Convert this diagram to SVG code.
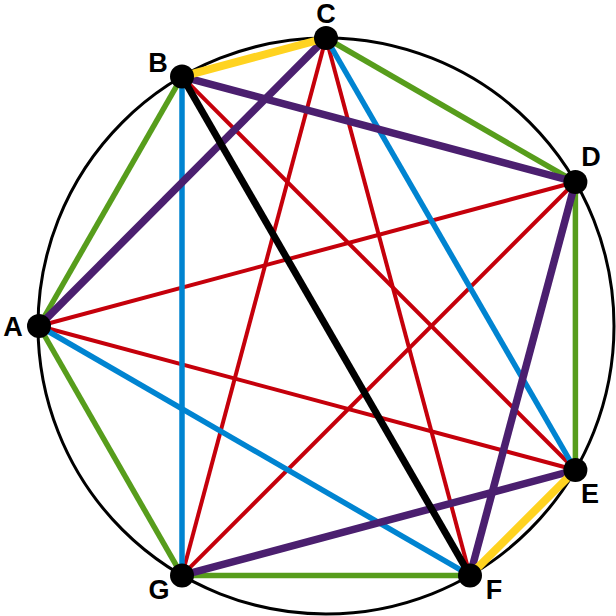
<svg xmlns="http://www.w3.org/2000/svg" width="616" height="616" viewBox="0 0 616 616">
<style>
.e{fill:none;stroke-linecap:butt}
.r{stroke:#C5000B;stroke-width:4}
.g{stroke:#579D1C;stroke-width:5.5}
.b{stroke:#0084D1;stroke-width:5.5}
.p{stroke:#4B1F6F;stroke-width:7.5}
.k{stroke:#000;stroke-width:7}
.y{stroke:#FFD320;stroke-width:8}
.n{fill:#000}
.t{font-family:"Liberation Sans",Arial,sans-serif;font-weight:bold;font-size:27px;fill:#000}
</style>
<rect width="616" height="616" fill="#fff"/>
<circle cx="326" cy="326" r="288" fill="none" stroke="#000" stroke-width="3"/>
<g id="connectors">
<line class="e r" x1="39" y1="326" x2="575.4" y2="182"/>
<line class="e r" x1="39" y1="326" x2="575.4" y2="470"/>
<line class="e r" x1="182" y1="76.6" x2="575.4" y2="470"/>
<line class="e r" x1="326" y1="38" x2="182" y2="575.4"/>
<line class="e r" x1="326" y1="38" x2="470" y2="575.4"/>
<line class="e r" x1="575.4" y1="182" x2="182" y2="575.4"/>
<line class="e b" x1="182" y1="76.6" x2="182" y2="575.4"/>
<line class="e b" x1="326" y1="38" x2="575.4" y2="470"/>
<line class="e b" x1="39" y1="326" x2="470" y2="575.4"/>
<line class="e g" x1="326" y1="38" x2="575.4" y2="182"/>
<line class="e g" x1="182" y1="76.6" x2="39" y2="326"/>
<line class="e g" x1="39" y1="326" x2="182" y2="575.4"/>
<line class="e g" x1="182" y1="575.4" x2="470" y2="575.4"/>
<line class="e g" x1="575.4" y1="182" x2="575.4" y2="470"/>
<line class="e p" x1="182" y1="76.6" x2="575.4" y2="182"/>
<line class="e p" x1="326" y1="38" x2="39" y2="326"/>
<line class="e p" x1="575.4" y1="182" x2="470" y2="575.4"/>
<line class="e p" x1="182" y1="575.4" x2="575.4" y2="470"/>
<line class="e k" x1="182" y1="76.6" x2="470" y2="575.4"/>
<line class="e y" x1="182" y1="76.6" x2="326" y2="38"/>
<line class="e y" x1="575.4" y1="470" x2="470" y2="575.4"/>
</g>
<g id="node-A"><circle class="n" cx="39" cy="326" r="12"/><text class="t" x="13" y="336" text-anchor="middle">A</text></g>
<g id="node-B"><circle class="n" cx="182" cy="76.6" r="12"/><text class="t" x="158" y="72" text-anchor="middle">B</text></g>
<g id="node-C"><circle class="n" cx="326" cy="38" r="12"/><text class="t" x="326" y="23" text-anchor="middle">C</text></g>
<g id="node-D"><circle class="n" cx="575.4" cy="182" r="12"/><text class="t" x="591" y="166" text-anchor="middle">D</text></g>
<g id="node-E"><circle class="n" cx="575.4" cy="470" r="12"/><text class="t" x="590" y="503" text-anchor="middle">E</text></g>
<g id="node-F"><circle class="n" cx="470" cy="575.4" r="12"/><text class="t" x="494" y="599" text-anchor="middle">F</text></g>
<g id="node-G"><circle class="n" cx="182" cy="575.4" r="12"/><text class="t" x="159" y="599" text-anchor="middle">G</text></g>
</svg>
